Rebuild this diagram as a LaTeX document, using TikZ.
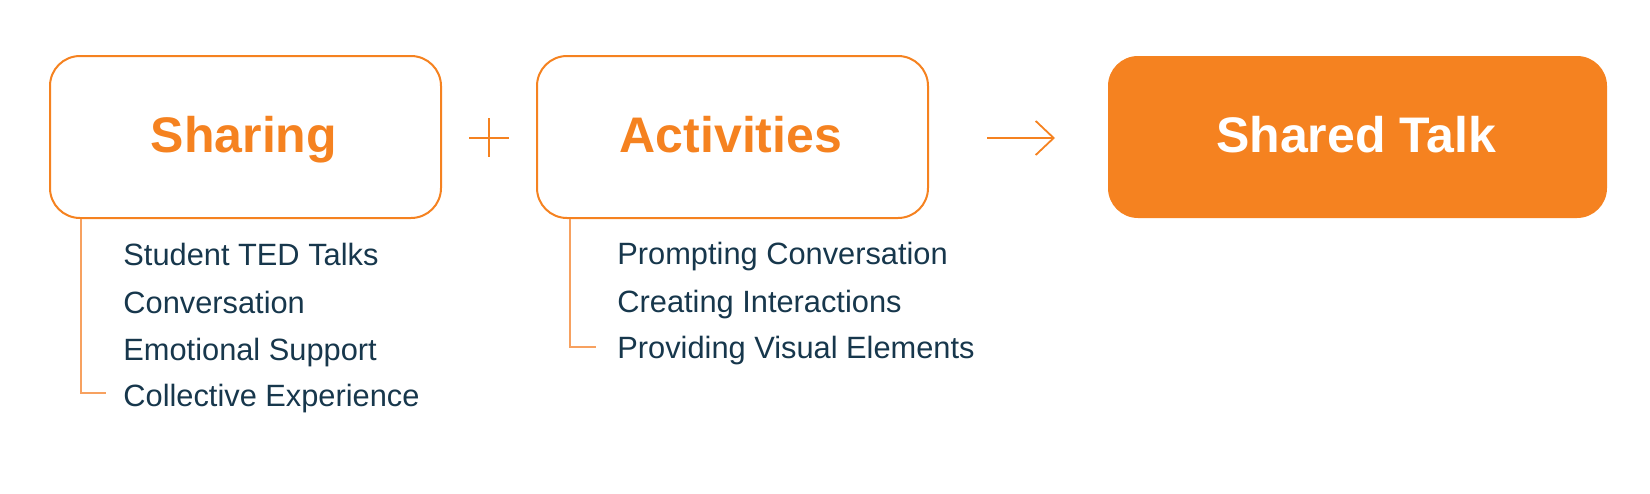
\documentclass[tikz,border=0pt]{standalone}
\usepackage{fontspec}
\setmainfont{Liberation Sans}
\usetikzlibrary{arrows.meta,calc}
\definecolor{orng}{HTML}{F58220}
\definecolor{lorng}{HTML}{F7A160}
\definecolor{navy}{HTML}{17374C}
\begin{document}
\begin{tikzpicture}[x=0.5pt,y=-0.5pt,
  box/.style={draw=orng,line width=1pt,rounded corners=15pt,minimum width=195.5pt,minimum height=81pt,inner sep=0pt},
  fbox/.style={fill=orng,rounded corners=15pt,minimum width=249.5pt,minimum height=81pt,inner sep=0pt},
  title/.style={anchor=base,inner sep=0pt,font=\fontsize{25}{30}\selectfont\bfseries},
  item/.style={anchor=base west,inner sep=0pt,text=navy,font=\fontsize{15.4}{18}\selectfont},
  brk/.style={draw=lorng,line width=0.7pt},
  sym/.style={draw=orng,line width=0.9pt}]
\useasboundingbox (0,0) rectangle (1650,493);
% boxes
\node[box] (sharing) at (245.5,137) {};
\node[box] (activities) at (732.5,137) {};
\node[fbox] (shared) at (1357.5,137) {};
% titles
\node[title,text=orng] (tsharing) at (244,152) {Sharing};
\node[title,text=orng] (tactivities) at (731,152) {Activities};
\node[title,text=white] (tshared) at (1356,152) {Shared Talk};
% plus
\coordinate (pl) at (469,138); \coordinate (pr) at (509,138);
\coordinate (pt) at (489,118); \coordinate (pb) at (489,157);
\draw[sym] (pl) -- (pr);
\draw[sym] (pt) -- (pb);
% arrow
\coordinate (as) at (987,138); \coordinate (ae) at (1055,138);
\draw[sym,-{Straight Barb[length=9pt,width=17pt,line width=0.9pt]}] (as) -- (ae);
% sharing items
\node[item] (s1) at (123,265) {Student TED Talks};
\node[item] (s2) at (123,313) {Conversation};
\node[item] (s3) at (123,360) {Emotional Support};
\node[item] (s4) at (123,406) {Collective Experience};
% activities items
\node[item] (a1) at (617,264) {Prompting Conversation};
\node[item] (a2) at (617,312) {Creating Interactions};
\node[item] (a3) at (617,358) {Providing Visual Elements};
% brackets
\coordinate (s4e) at (106,393);
\coordinate (a3e) at (596,347);
\draw[brk] ($(sharing.south west)+(32,0)$) |- (s4e);
\draw[brk] ($(activities.south west)+(34,0)$) |- (a3e);
\end{tikzpicture}
\end{document}
